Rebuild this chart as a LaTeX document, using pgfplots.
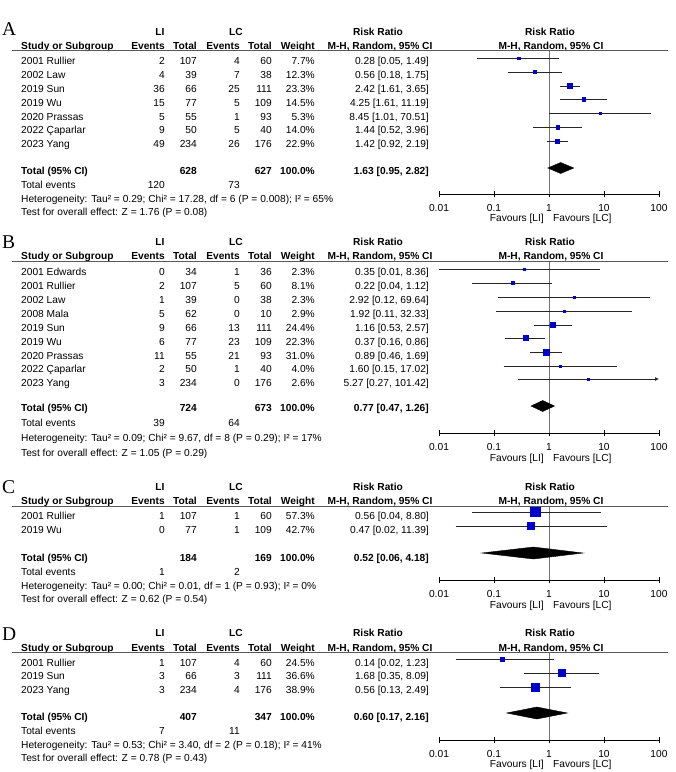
\documentclass[border=0pt]{standalone}
\usepackage{fontspec}
\setmainfont{Liberation Sans}
\newfontfamily\letterfont{Liberation Serif}
\usepackage{pgfplots}
\pgfplotsset{compat=1.18}
\usetikzlibrary{arrows.meta}

\definecolor{sqblue}{RGB}{0,0,204}
\definecolor{rulegray}{gray}{0.35}
\newcommand\fs{\fontsize{10.2}{12}\selectfont}

% forest plot axis: log scale 0.01..100, only the bottom line
\pgfplotsset{every axis/.append style={
  scale only axis, width=220pt, anchor=south west,
  xmin=0.01, xmax=100,
  xtick={0.01,0.1,1,10,100}, xticklabels={0.01,0.1,1,10,100},
  xminorticks=false, hide y axis, axis x line*=bottom,
  tick align=center, major tick length=6pt,
  x axis line style={black, line width=0.8pt},
  tick style={black, line width=0.8pt},
  xticklabel style={font=\fs, anchor=base, yshift=-14.7pt, inner sep=0pt},
  clip=false}}

% study: y, rr, lo, hi, half side of square
\newcommand\ci[5]{%
  \addplot[black!85, line width=0.7pt] coordinates {(#3,#1) (#4,#1)};
  \addplot[only marks, mark=square*, mark size=#5pt, color=sqblue] coordinates {(#2,#1)};}
\newcommand\oneline[2]{\addplot[black!55, line width=0.7pt] coordinates {(1,#1) (1,#2)};}

\tikzset{L/.style={anchor=base west, inner sep=0pt},
         R/.style={anchor=base east, inner sep=0pt},
         M/.style={anchor=base, inner sep=0pt}}

% table row: [style] y, name, events, total, events, total, weight
\newcommand\trow[8][]{%
  \node[L,#1] at (21,{-(#2+3.7)}) {#3};
  \node[R,#1] at (165,{-(#2+3.7)}) {#4};
  \node[R,#1] at (197,{-(#2+3.7)}) {#5};
  \node[R,#1] at (240,{-(#2+3.7)}) {#6};
  \node[R,#1] at (272,{-(#2+3.7)}) {#7};
  \node[R,#1] at (315,{-(#2+3.7)}) {#8};}
\newcommand\rr[3][]{\node[R,#1] at (429,{-(#2+3.7)}) {#3};}

% header: letter, letter baseline, group row, header row, rule
\newcommand\head[5]{%
  \node[L, font=\letterfont\fontsize{19.5}{20}\selectfont] at (2,-#2) {#1};
  \begin{scope}[every node/.append style={font=\fs\bfseries}]
  \node[M] at (160,{-(#3+3.7)}) {LI};
  \node[M] at (236,{-(#3+3.7)}) {LC};
  \node[M] at (378,{-(#3+3.7)}) {Risk Ratio};
  \node[M] at (550,{-(#3+3.7)}) {Risk Ratio};
  \trow{#4}{Study or Subgroup}{Events}{Total}{Events}{Total}{Weight}
  \node[M] at (380,{-(#4+3.7)}) {M-H, Random, 95\% CI};
  \node[M] at (551,{-(#4+3.7)}) {M-H, Random, 95\% CI};
  \end{scope}
  \draw[rulegray, line width=0.9pt] (12,-#5) -- (668,-#5);}

% footer: total events y, e1, e2, heterogeneity y, text, test y, text, favours y
\newcommand\foot[8]{%
  \node[L] at (21,{-(#1+3.7)}) {Total events};
  \node[R] at (165,{-(#1+3.7)}) {#2};
  \node[R] at (240,{-(#1+3.7)}) {#3};
  \node[L] at (21,{-(#4+3.7)}) {Heterogeneity: #5};
  \node[L] at (21,{-(#6+3.7)}) {Test for overall effect: #7};
  \node[R] at (544,{-(#8+3.7)}) {Favours [LI]};
  \node[L] at (553,{-(#8+3.7)}) {Favours [LC]};}

\begin{document}
\begin{tikzpicture}[every node/.style={font=\fs}]

% ---------------- A
\begin{semilogxaxis}[at={(439pt,-194pt)}, ymin=-194, ymax=-50, height=144pt]
\oneline{-50}{-194}
\ci{-58}{0.28}{0.05}{1.49}{1.3}
\ci{-72}{0.56}{0.18}{1.75}{1.5}
\ci{-86}{2.42}{1.61}{3.65}{2.5}
\ci{-99}{4.25}{1.61}{11.19}{1.7}
\ci{-113}{8.45}{1.01}{70.51}{1.2}
\ci{-127}{1.44}{0.52}{3.96}{1.7}
\ci{-141}{1.42}{0.92}{2.19}{2.2}
\addplot[fill=black, draw=black] coordinates {(0.95,-168) (1.63,-162.5) (2.82,-168) (1.63,-173.5)} --cycle;
\end{semilogxaxis}

% ---------------- B
\begin{semilogxaxis}[at={(439pt,-433pt)}, ymin=-433, ymax=-261, height=172pt]
\oneline{-261}{-433}
\ci{-269}{0.35}{0.01}{8.36}{1.0}
\ci{-283}{0.22}{0.04}{1.12}{1.4}
\ci{-297}{2.92}{0.12}{69.64}{1.0}
\ci{-311}{1.92}{0.11}{32.33}{1.0}
\ci{-325}{1.16}{0.53}{2.57}{2.5}
\ci{-338}{0.37}{0.16}{0.86}{2.5}
\ci{-352}{0.89}{0.46}{1.69}{3.2}
\ci{-366}{1.60}{0.15}{17.02}{1.1}
\addplot[black!85, line width=0.7pt, -{Latex[length=4pt, width=4pt]}] coordinates {(0.27,-379) (100,-379)};
\addplot[only marks, mark=square*, mark size=1.0pt, color=sqblue] coordinates {(5.27,-379)};
\addplot[fill=black, draw=black] coordinates {(0.47,-406) (0.77,-400.5) (1.26,-406) (0.77,-411.5)} --cycle;
\end{semilogxaxis}

% ---------------- C
\begin{semilogxaxis}[at={(439pt,-580pt)}, ymin=-580, ymax=-506, height=74pt]
\oneline{-506}{-580}
\ci{-512}{0.56}{0.04}{8.80}{4.6}
\ci{-526}{0.47}{0.02}{11.39}{3.5}
\addplot[fill=black, draw=black] coordinates {(0.06,-553) (0.52,-547) (4.18,-553) (0.52,-559)} --cycle;
\end{semilogxaxis}

% ---------------- D
\begin{semilogxaxis}[at={(439pt,-740pt)}, ymin=-740, ymax=-652, height=88pt]
\oneline{-652}{-740}
\ci{-659}{0.14}{0.02}{1.23}{2.3}
\ci{-673}{1.68}{0.35}{8.09}{3.5}
\ci{-687}{0.56}{0.13}{2.49}{3.7}
\addplot[fill=black, draw=black] coordinates {(0.17,-713) (0.60,-707) (2.16,-713) (0.60,-719)} --cycle;
\end{semilogxaxis}

\begin{scope}[x=1pt, y=1pt]
\path (0,0) rectangle (676,-772);

% ---- A table
\head{A}{35}{32}{46}{50}
\trow{61}{2001 Rullier}{2}{107}{4}{60}{7.7\%}\rr{61}{0.28 [0.05, 1.49]}
\trow{75}{2002 Law}{4}{39}{7}{38}{12.3\%}\rr{75}{0.56 [0.18, 1.75]}
\trow{89}{2019 Sun}{36}{66}{25}{111}{23.3\%}\rr{89}{2.42 [1.61, 3.65]}
\trow{103}{2019 Wu}{15}{77}{5}{109}{14.5\%}\rr{103}{4.25 [1.61, 11.19]}
\trow{117}{2020 Prassas}{5}{55}{1}{93}{5.3\%}\rr{117}{8.45 [1.01, 70.51]}
\trow{130}{2022 Çaparlar}{9}{50}{5}{40}{14.0\%}\rr{130}{1.44 [0.52, 3.96]}
\trow{144}{2023 Yang}{49}{234}{26}{176}{22.9\%}\rr{144}{1.42 [0.92, 2.19]}
\trow[font=\fs\bfseries]{171}{Total (95\% CI)}{}{628}{}{627}{100.0\%}\rr[font=\fs\bfseries]{171}{1.63 [0.95, 2.82]}
\foot{185}{120}{73}{199}{Tau² = 0.29; Chi² = 17.28, df = 6 (P = 0.008); I² = 65\%}{212}{Z = 1.76 (P = 0.08)}{218}

% ---- B table
\head{B}{248}{242}{256}{261}
\trow{272}{2001 Edwards}{0}{34}{1}{36}{2.3\%}\rr{272}{0.35 [0.01, 8.36]}
\trow{286}{2001 Rullier}{2}{107}{5}{60}{8.1\%}\rr{286}{0.22 [0.04, 1.12]}
\trow{300}{2002 Law}{1}{39}{0}{38}{2.3\%}\rr{300}{2.92 [0.12, 69.64]}
\trow{314}{2008 Mala}{5}{62}{0}{10}{2.9\%}\rr{314}{1.92 [0.11, 32.33]}
\trow{328}{2019 Sun}{9}{66}{13}{111}{24.4\%}\rr{328}{1.16 [0.53, 2.57]}
\trow{342}{2019 Wu}{6}{77}{23}{109}{22.3\%}\rr{342}{0.37 [0.16, 0.86]}
\trow{356}{2020 Prassas}{11}{55}{21}{93}{31.0\%}\rr{356}{0.89 [0.46, 1.69]}
\trow{369}{2022 Çaparlar}{2}{50}{1}{40}{4.0\%}\rr{369}{1.60 [0.15, 17.02]}
\trow{383}{2023 Yang}{3}{234}{0}{176}{2.6\%}\rr{383}{5.27 [0.27, 101.42]}
\trow[font=\fs\bfseries]{408}{Total (95\% CI)}{}{724}{}{673}{100.0\%}\rr[font=\fs\bfseries]{408}{0.77 [0.47, 1.26]}
\foot{423}{39}{64}{438}{Tau² = 0.09; Chi² = 9.67, df = 8 (P = 0.29); I² = 17\%}{453}{Z = 1.05 (P = 0.29)}{458}

% ---- C table
\head{C}{493}{487}{501}{506}
\trow{516}{2001 Rullier}{1}{107}{1}{60}{57.3\%}\rr{516}{0.56 [0.04, 8.80]}
\trow{530}{2019 Wu}{0}{77}{1}{109}{42.7\%}\rr{530}{0.47 [0.02, 11.39]}
\trow[font=\fs\bfseries]{558}{Total (95\% CI)}{}{184}{}{169}{100.0\%}\rr[font=\fs\bfseries]{558}{0.52 [0.06, 4.18]}
\foot{572}{1}{2}{586}{Tau² = 0.00; Chi² = 0.01, df = 1 (P = 0.93); I² = 0\%}{599}{Z = 0.62 (P = 0.54)}{605}

% ---- D table
\head{D}{640}{633}{648}{652}
\trow{663}{2001 Rullier}{1}{107}{4}{60}{24.5\%}\rr{663}{0.14 [0.02, 1.23]}
\trow{676}{2019 Sun}{3}{66}{3}{111}{36.6\%}\rr{676}{1.68 [0.35, 8.09]}
\trow{690}{2023 Yang}{3}{234}{4}{176}{38.9\%}\rr{690}{0.56 [0.13, 2.49]}
\trow[font=\fs\bfseries]{717}{Total (95\% CI)}{}{407}{}{347}{100.0\%}\rr[font=\fs\bfseries]{717}{0.60 [0.17, 2.16]}
\foot{731}{7}{11}{745}{Tau² = 0.53; Chi² = 3.40, df = 2 (P = 0.18); I² = 41\%}{758}{Z = 0.78 (P = 0.43)}{764}
\end{scope}

\end{tikzpicture}
\end{document}
